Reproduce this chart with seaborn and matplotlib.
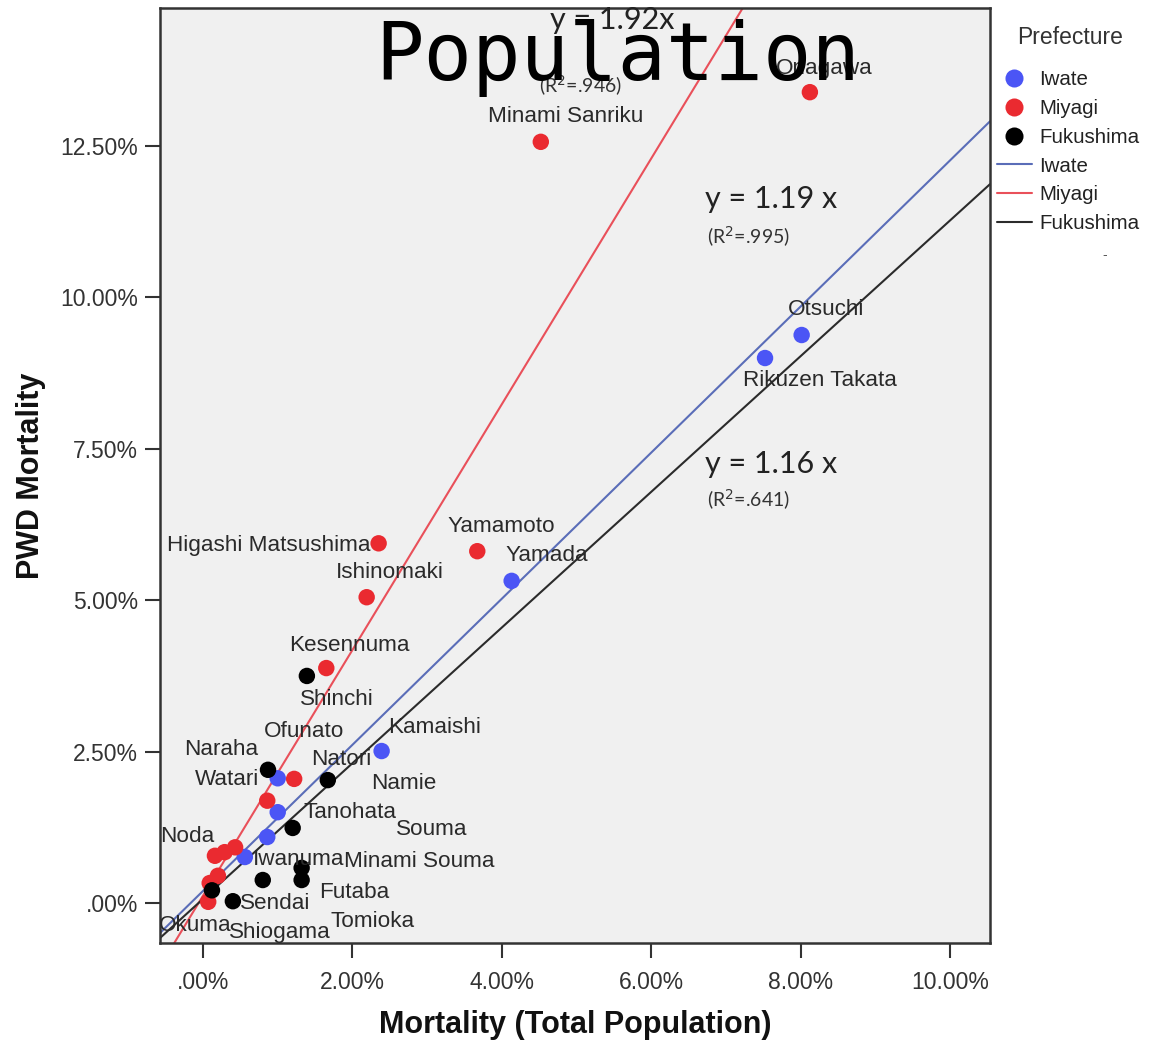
import numpy as np
import pandas as pd
import seaborn as sns
import matplotlib.pyplot as plt
from matplotlib.lines import Line2D
from matplotlib.ticker import FuncFormatter

# municipality values (% mortality)
iwate_names = ["Otsuchi", "Rikuzen Takata", "Yamada", "Kamaishi", "Ofunato", "Tanohata", "Noda", ""]
iwate_total = [8.01, 7.52, 4.13, 2.39, 1.00, 1.00, 0.86, 0.56]
iwate_pwd = [9.38, 9.00, 5.32, 2.51, 2.06, 1.50, 1.09, 0.76]

miyagi_names = ["Onagawa", "Minami Sanriku", "Yamamoto", "Higashi Matsushima", "Ishinomaki",
                "Kesennuma", "Natori", "Watari", "Iwanuma", "", "", "", "", "Shiogama"]
miyagi_total = [8.12, 4.52, 3.67, 2.35, 2.19, 1.65, 1.22, 0.86, 0.43, 0.29, 0.16, 0.20, 0.09, 0.07]
miyagi_pwd = [13.39, 12.57, 5.81, 5.94, 5.05, 3.88, 2.05, 1.69, 0.92, 0.84, 0.78, 0.45, 0.33, 0.02]

fukushima_names = ["Shinchi", "Naraha", "Namie", "Souma", "Minami Souma", "Futaba", "Tomioka", "Sendai", "Okuma"]
fukushima_total = [1.39, 0.87, 1.67, 1.20, 1.32, 1.32, 0.80, 0.40, 0.12]
fukushima_pwd = [3.75, 2.20, 2.03, 1.24, 0.58, 0.38, 0.38, 0.03, 0.21]

prefectures = ["Iwate", "Miyagi", "Fukushima"]
fit_slope = [1.207, 2.03, 1.121]
fit_intercept = [0.199, 0.12, 0.067]
fit_labels = ["y = 1.19 x", "y = 1.92x", "y = 1.16 x"]
fit_r2 = ["(R$^2$=.995)", "(R$^2$=.946)", "(R$^2$=.641)"]

df = pd.concat([
    pd.DataFrame({"name": iwate_names, "total": iwate_total, "pwd": iwate_pwd, "Prefecture": "Iwate"}),
    pd.DataFrame({"name": miyagi_names, "total": miyagi_total, "pwd": miyagi_pwd, "Prefecture": "Miyagi"}),
    pd.DataFrame({"name": fukushima_names, "total": fukushima_total, "pwd": fukushima_pwd, "Prefecture": "Fukushima"}),
], ignore_index=True)

point_colors = {"Iwate": "#4b55f5", "Miyagi": "#ea2a30", "Fukushima": "#000000"}
line_colors = {"Iwate": "#5a6db8", "Miyagi": "#e9505a", "Fukushima": "#2b2b2b"}

# label offsets in pixels from each point (text centre)
label_off = {
    "Otsuchi": (24, 26), "Rikuzen Takata": (55, -22), "Yamada": (35, 25), "Kamaishi": (53, 24),
    "Ofunato": (26, 47), "Tanohata": (72, 0), "Noda": (-80, 1),
    "Onagawa": (14, 24), "Minami Sanriku": (25, 25), "Yamamoto": (24, 25),
    "Higashi Matsushima": (-110, -2), "Ishinomaki": (23, 25), "Kesennuma": (23, 23),
    "Natori": (47, 19), "Watari": (-40, 21), "Iwanuma": (64, -12), "Shiogama": (72, -31),
    "Shinchi": (30, -24), "Naraha": (-47, 20), "Namie": (76, -3), "Souma": (139, -2),
    "Minami Souma": (118, 6), "Futaba": (53, -12), "Tomioka": (110, -41), "Sendai": (42, -2),
    "Okuma": (-17, -35),
}

sns.set_style("white")
plt.rcParams['font.family'] = ['Liberation Sans', 'DejaVu Sans']

W, H = 1153, 1046
fig = plt.figure(figsize=(W / 100, H / 100), dpi=100)
ax = fig.add_axes([160 / W, 1 - 943 / H, 830 / W, 935 / H])
ax.set_facecolor("#f0f0f0")

for p, m, b in zip(prefectures, fit_slope, fit_intercept):
    ax.axline((0, b), slope=m, color=line_colors[p], lw=1.5, zorder=1)

sns.scatterplot(data=df, x="total", y="pwd", hue="Prefecture", palette=point_colors,
                s=140, edgecolor="none", legend=False, ax=ax, zorder=3)

for _, r in df.iterrows():
    if r["name"]:
        ax.annotate(r["name"], (r["total"], r["pwd"]), xytext=label_off[r["name"]],
                    textcoords="offset pixels", ha="center", va="center",
                    fontsize=16.2, color="#2a2a2a", zorder=4)

ax.set_xlim(-0.575, 10.53)
ax.set_ylim(-0.66, 14.78)
ax.set_xticks([0, 2, 4, 6, 8, 10])
ax.set_yticks([0, 2.5, 5, 7.5, 10, 12.5])
fmt = FuncFormatter(lambda v, _: ".00%" if abs(v) < 1e-9 else f"{v:.2f}%")
ax.xaxis.set_major_formatter(fmt)
ax.yaxis.set_major_formatter(fmt)
ax.tick_params(axis="both", direction="out", length=11, width=1.5, color="#333333",
               labelsize=16.5, labelcolor="#333333", pad=5, left=True, bottom=True)
ax.tick_params(axis="x", pad=9)
for s in ax.spines.values():
    s.set_color("#333333")
    s.set_linewidth(1.8)

lab_font = dict(fontweight="bold", fontsize=22, color="#111111")
ax.set_xlabel("Mortality (Total Population)", labelpad=12, **lab_font)
ax.set_ylabel("PWD Mortality", labelpad=10, **lab_font)

# fit equations
eq_pos = [(771, 199), (612, 20), (771, 464)]
r2_pos = [(749, 237), (581, 86), (749, 500)]
for i in range(3):
    fig.text(eq_pos[i][0] / W, 1 - eq_pos[i][1] / H, fit_labels[i], family="Lato",
             fontsize=22, color="#222222", ha="center", va="center")
    fig.text(r2_pos[i][0] / W, 1 - r2_pos[i][1] / H, fit_r2[i], family="Lato",
             fontsize=14, color="#333333", ha="center", va="center")

fig.text(618 / W, 1 - 58 / H, "Population", family="DejaVu Sans Mono", fontsize=58,
         color="black", ha="center", va="center")

# legend (title drawn separately to match spacing)
fig.text(1070 / W, 1 - 38 / H, "Prefecture", fontsize=16.5, color="#333333", ha="center", va="center")
handles = [Line2D([], [], marker="o", ls="none", ms=13, color=point_colors[p], mec="none") for p in prefectures]
handles += [Line2D([], [], color=line_colors[p], lw=1.5) for p in prefectures]
leg = fig.legend(handles, prefectures + prefectures, loc="upper left",
                 bbox_to_anchor=(997 / W, 1 - 70 / H), frameon=False, fontsize=14.8,
                 labelspacing=0.48, handlelength=1.7, handletextpad=0.35,
                 borderaxespad=0, borderpad=0)
for t in leg.get_texts():
    t.set_color("#222222")
fig.text(1105 / W, 1 - 255 / H, "-", fontsize=10, color="#555555", ha="center", va="center")

fig.savefig("out.png", dpi=100)
